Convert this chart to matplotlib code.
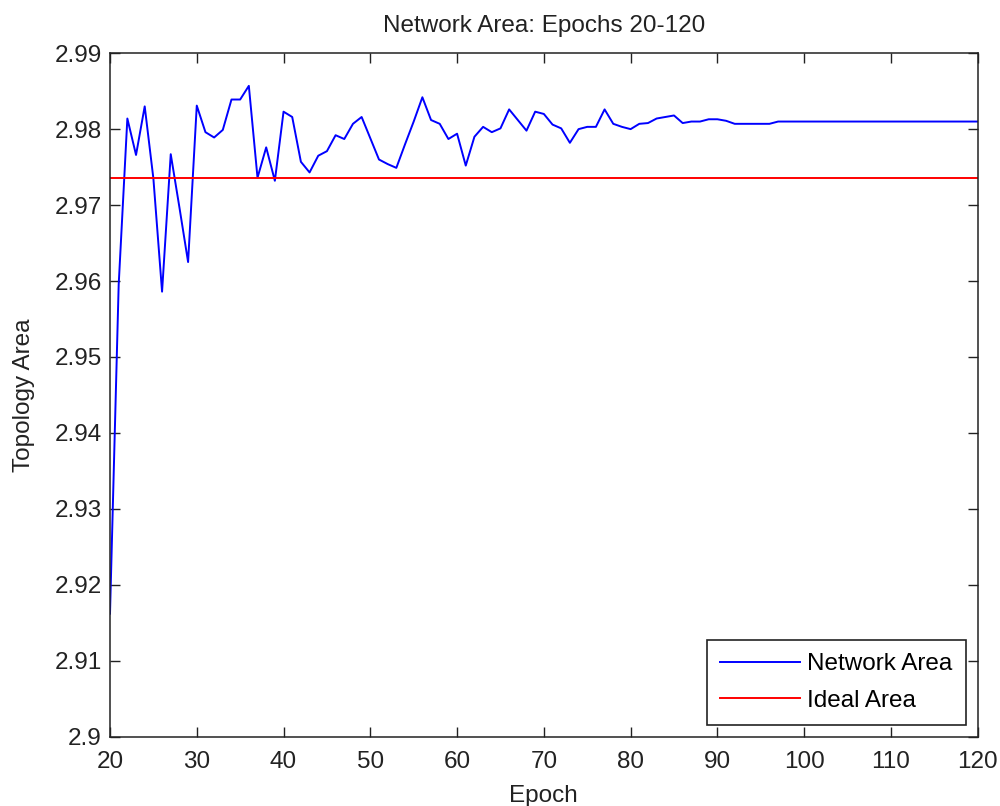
import matplotlib
matplotlib.use("Agg")
import matplotlib.pyplot as plt

plt.rcParams['font.family'] = ['Liberation Sans', 'DejaVu Sans']

# --- data ---
epochs = list(range(20, 121))
network_area = [
    2.9162, 2.9595, 2.9814, 2.9766, 2.9830, 2.9735, 2.9586, 2.9767, 2.9697, 2.9625,  # 20-29
    2.9831, 2.9796, 2.9789, 2.9799, 2.9839, 2.9839, 2.9857, 2.9736, 2.9776, 2.9732,  # 30-39
    2.9823, 2.9816, 2.9757, 2.9743, 2.9765, 2.9771, 2.9792, 2.9787, 2.9807, 2.9816,  # 40-49
    2.9788, 2.9760, 2.9754, 2.9749, 2.9780, 2.9810, 2.9842, 2.9812, 2.9807, 2.9787,  # 50-59
    2.9794, 2.9752, 2.9790, 2.9803, 2.9796, 2.9801, 2.9826, 2.9812, 2.9798, 2.9823,  # 60-69
    2.9820, 2.9806, 2.9801, 2.9782, 2.9800, 2.9803, 2.9803, 2.9826, 2.9807, 2.9803,  # 70-79
    2.9800, 2.9807, 2.9808, 2.9814, 2.9816, 2.9818, 2.9808, 2.9810, 2.9810, 2.9813,  # 80-89
    2.9813, 2.9811, 2.9807, 2.9807, 2.9807, 2.9807, 2.9807, 2.9810, 2.9810, 2.9810,  # 90-99
    2.9810, 2.9810, 2.9810, 2.9810, 2.9810, 2.9810, 2.9810, 2.9810, 2.9810, 2.9810,  # 100-109
    2.9810, 2.9810, 2.9810, 2.9810, 2.9810, 2.9810, 2.9810, 2.9810, 2.9810, 2.9810,  # 110-119
    2.9810,                                                                          # 120
]
ideal_area = 2.97356
x_ticks = list(range(20, 121, 10))
y_ticks = [2.90, 2.91, 2.92, 2.93, 2.94, 2.95, 2.96, 2.97, 2.98, 2.99]
y_tick_labels = ['2.9', '2.91', '2.92', '2.93', '2.94', '2.95', '2.96', '2.97', '2.98', '2.99']

FS = 17.5

fig = plt.figure(figsize=(10, 8.06), dpi=100, facecolor='white')
ax = fig.add_axes([0.110, 0.086, 0.8677, 0.848])

ax.plot(epochs, network_area, color='#0000ff', lw=1.4, label='Network Area')
ax.axhline(ideal_area, color='#ff0000', lw=1.4, label='Ideal Area')

ax.set_xlim(20, 120); ax.set_ylim(2.9, 2.99)
ax.set_xticks(x_ticks); ax.set_yticks(y_ticks)
ax.set_yticklabels(y_tick_labels)
ax.tick_params(direction='in', length=7, width=1.0, top=True, right=True,
               labelsize=FS, colors='#222222')
ax.tick_params(axis='x', pad=10)
ax.tick_params(axis='y', pad=6)
for s in ax.spines.values():
    s.set_linewidth(1.1); s.set_color('#222222')

ax.set_title('Network Area: Epochs 20-120', fontsize=FS, pad=15.5, color='#222222')
ax.set_xlabel('Epoch', fontsize=FS, labelpad=9, color='#222222')
ax.set_ylabel('Topology Area', fontsize=FS, labelpad=14, color='#222222')

leg = ax.legend(loc='lower right', bbox_to_anchor=(0.966, 1 - 725 / 806), bbox_transform=fig.transFigure,
                borderaxespad=0, fontsize=FS, fancybox=False, framealpha=1, edgecolor='#222222',
                handlelength=3.3, handletextpad=0.3, borderpad=0.55, labelspacing=0.6)
leg.get_frame().set_linewidth(1.2)

fig.savefig('out.png', dpi=100)
